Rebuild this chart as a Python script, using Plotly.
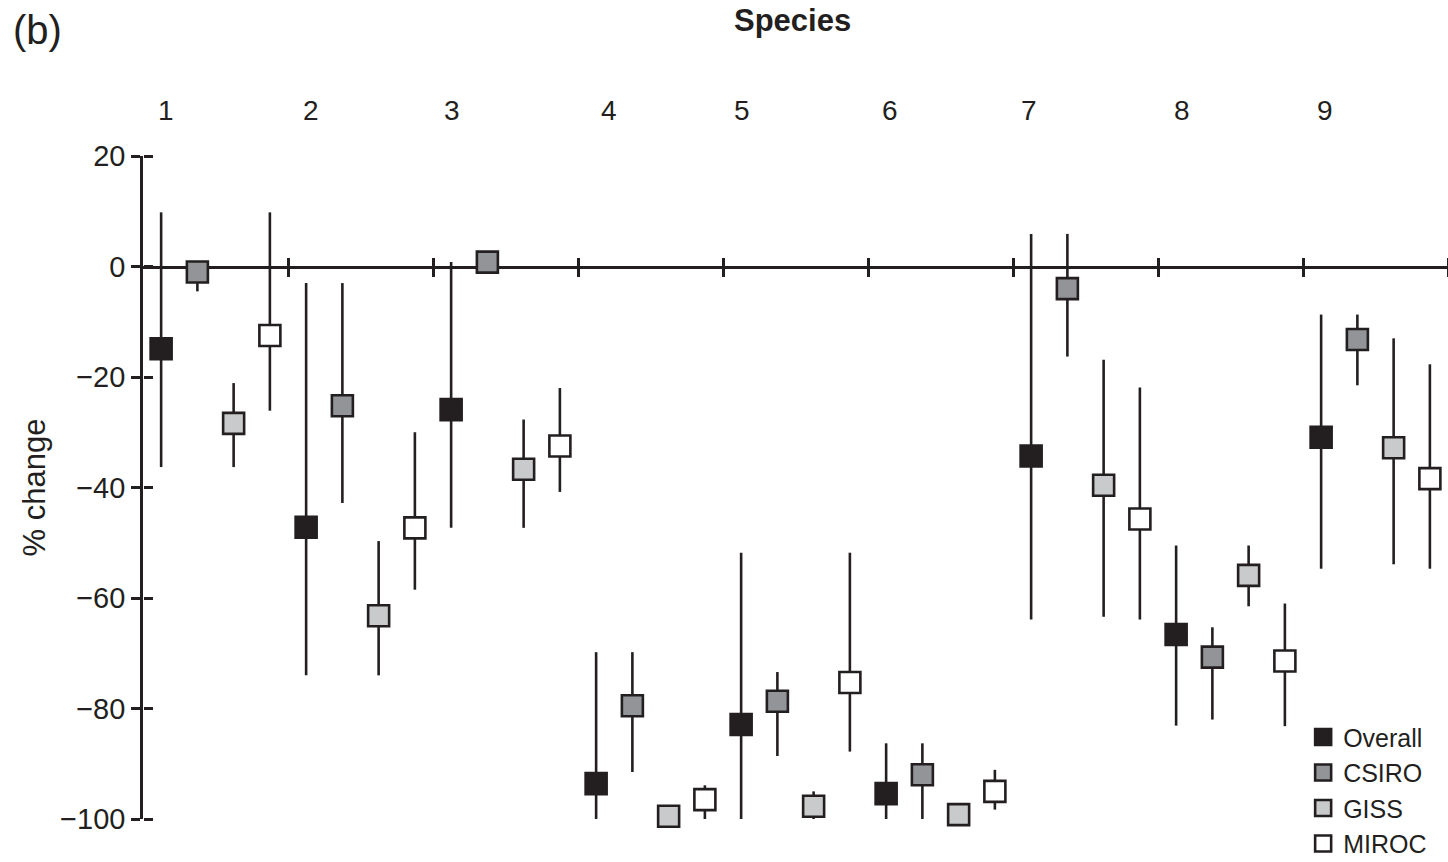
import plotly.graph_objects as go

# Species and climate-model series
species = ["1", "2", "3", "4", "5", "6", "7", "8", "9"]
models = ["Overall", "CSIRO", "GISS", "MIROC"]

overall_mean = [-14.9, -47.2, -25.9, -93.6, -82.9, -95.4, -34.3, -66.6, -30.9]
overall_hi = [9.8, -3.0, 0.8, -69.8, -51.8, -86.3, 5.9, -50.5, -8.7]
overall_lo = [-36.3, -74.0, -47.3, -100.0, -100.0, -100.0, -63.9, -83.1, -54.7]

csiro_mean = [-1.0, -25.2, 0.8, -79.5, -78.7, -92.0, -4.0, -70.7, -13.2]
csiro_hi = [-0.5, -3.0, 0.8, -69.8, -73.4, -86.3, 5.9, -65.3, -8.7]
csiro_lo = [-4.5, -42.8, 0.8, -91.5, -88.6, -100.0, -16.3, -82.0, -21.5]

giss_mean = [-28.4, -63.2, -36.7, -99.5, -97.7, -99.2, -39.6, -55.9, -32.8]
giss_hi = [-21.1, -49.7, -27.7, -99.5, -95.0, -99.2, -16.9, -50.5, -13.0]
giss_lo = [-36.3, -74.0, -47.3, -99.5, -100.0, -99.2, -63.4, -61.5, -53.9]

miroc_mean = [-12.5, -47.3, -32.5, -96.5, -75.3, -95.0, -45.7, -71.4, -38.4]
miroc_hi = [9.8, -30.0, -22.0, -93.9, -51.8, -91.1, -21.9, -61.0, -17.7]
miroc_lo = [-26.1, -58.5, -40.8, -100.0, -87.8, -98.3, -63.9, -83.2, -54.7]

y_ticks = [20, 0, -20, -40, -60, -80, -100]

# Styling
INK = "#231f20"
FONT = "Liberation Sans, Arial, Helvetica, sans-serif"
fills = {"Overall": INK, "CSIRO": "#929497", "GISS": "#c9cacc", "MIROC": "#ffffff"}
label_nudge = [0.13, 0.13, 0.02, 0.36, 0.02, 0.1, -0.06, 0.16, 0.1]

series = {
    "Overall": (overall_mean, overall_hi, overall_lo),
    "CSIRO": (csiro_mean, csiro_hi, csiro_lo),
    "GISS": (giss_mean, giss_hi, giss_lo),
    "MIROC": (miroc_mean, miroc_hi, miroc_lo),
}

n_models = len(models)
n_species = len(species)
group_edges = [g * n_models - 0.5 for g in range(1, n_species + 1)]

fig = go.Figure()

for m_idx, name in enumerate(models):
    mean, hi, lo = series[name]
    xs = [s * n_models + m_idx for s in range(n_species)]
    fig.add_trace(go.Scatter(
        x=xs, y=mean, mode="markers", name=name,
        cliponaxis=False,
        marker=dict(symbol="square", size=21, color=fills[name],
                    line=dict(color=INK, width=2.6)),
        error_y=dict(type="data", symmetric=False,
                     array=[h - v for h, v in zip(hi, mean)],
                     arrayminus=[v - l for v, l in zip(mean, lo)],
                     color=INK, thickness=2.6, width=0),
    ))

# helper trace so the overlay axes (crossing tick marks) are drawn
fig.add_trace(go.Scatter(x=[None], y=[None], xaxis="x2", yaxis="y2",
                         showlegend=False, hoverinfo="skip"))

x_range = [-0.5, n_species * n_models - 0.5]
y_range = [-100, 20]
zero_pos = (0 - y_range[0]) / (y_range[1] - y_range[0])

fig.update_layout(
    width=1448, height=862,
    margin=dict(l=143, r=0, t=156, b=43, autoexpand=False),
    paper_bgcolor="white", plot_bgcolor="white",
    font=dict(family=FONT, size=28, color=INK),
    showlegend=True,
    legend=dict(x=0.889, xanchor="left", y=0.158, yanchor="top",
                bgcolor="rgba(0,0,0,0)", font=dict(size=25, color=INK),
                itemsizing="trace", tracegroupgap=0),
    xaxis=dict(range=x_range, anchor="free", position=zero_pos,
               showline=True, linecolor=INK, linewidth=2.6,
               ticks="outside", tickvals=group_edges, ticklen=9,
               tickwidth=2.6, tickcolor=INK, showticklabels=False,
               showgrid=False, zeroline=False, layer="below traces"),
    xaxis2=dict(range=x_range, overlaying="x", side="top", anchor="free",
                position=zero_pos, showline=False,
                ticks="outside", tickvals=group_edges, ticklen=9,
                tickwidth=2.6, tickcolor=INK, showticklabels=False,
                showgrid=False, zeroline=False, layer="below traces"),
    yaxis=dict(range=y_range, showline=True, linecolor=INK, linewidth=2.6,
               ticks="outside", tickvals=y_ticks, ticklen=9, tickwidth=2.6,
               tickcolor=INK, tickfont=dict(size=29, color=INK),
               showgrid=False, zeroline=False, layer="below traces"),
    yaxis2=dict(range=y_range, overlaying="y", side="right", anchor="free",
                position=0, showline=False, ticks="outside",
                tickvals=y_ticks, ticklen=9, tickwidth=2.6, tickcolor=INK,
                showticklabels=False, showgrid=False, zeroline=False),
)

annotations = []
for s_idx, lab in enumerate(species):
    annotations.append(dict(
        x=s_idx * n_models + label_nudge[s_idx], xref="x",
        y=1, yref="paper", yshift=46, yanchor="middle",
        text=lab, showarrow=False, font=dict(size=28, color=INK)))

annotations += [
    dict(text="<b>Species</b>", xref="paper", yref="paper",
         x=(792 - 143) / 1305, y=1, yshift=136, yanchor="middle",
         showarrow=False, font=dict(size=31, color=INK)),
    dict(text="(b)", xref="paper", yref="paper", x=0, xshift=-106,
         y=1, yshift=126, xanchor="center", yanchor="middle",
         showarrow=False, font=dict(size=40, color=INK)),
    dict(text="% change", xref="paper", yref="paper", x=0, xshift=-109,
         y=0.5, textangle=-90, xanchor="center", yanchor="middle",
         showarrow=False, font=dict(size=31, color=INK)),
]
fig.update_layout(annotations=annotations)

fig.write_html("out.html")
